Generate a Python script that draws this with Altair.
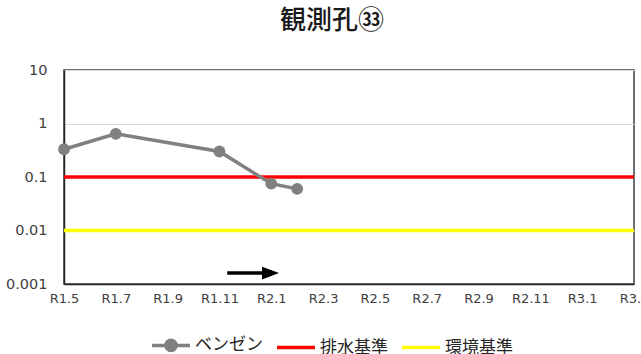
import json
import altair as alt
import pandas as pd

# Month labels on the horizontal axis (Reiwa year.month, every two months)
x_tick_labels = ["R1.5", "R1.7", "R1.9", "R1.11", "R2.1", "R2.3",
                 "R2.5", "R2.7", "R2.9", "R2.11", "R3.1", "R3.3"]

# Benzene measurements at observation well 33 (mg/L)
sample_months = ["R1.5", "R1.7", "R1.11", "R2.1", "R2.2"]
benzene_values = [0.33, 0.64, 0.30, 0.075, 0.06]

# Reference standards
effluent_standard = 0.1
environmental_standard = 0.01

# Legend entries
legend_names = ["ベンゼン", "排水基準", "環境基準"]
legend_colors = ["#808080", "#ff0000", "#ffff00"]
legend_shapes = [
    "M-1,0H1M0.27,0A0.27,0.27,0,1,1,-0.27,0A0.27,0.27,0,1,1,0.27,0Z",
    "M-1,0H1",
    "M-1,0H1",
]

# Trend arrow (month position and height on the log axis)
arrow_tail_month = 6.3
arrow_tip_month = 8.3
arrow_level = 0.0016

FONT = "Noto Sans CJK JP"
NUM_FONT = "DejaVu Sans"


def month_index(label):
    year, month = label[1:].split(".")
    return (int(year) - 1) * 12 + int(month) - 5


tick_values = [month_index(t) for t in x_tick_labels]
x_max = tick_values[-1]

df = pd.DataFrame({
    "m": [month_index(s) for s in sample_months],
    "value": benzene_values,
    "label": sample_months,
})
std_df = pd.DataFrame({
    "name": ["排水基準", "環境基準"],
    "value": [effluent_standard, environmental_standard],
    "color": ["#ff0000", "#ffff00"],
})
arrow_df = pd.DataFrame({
    "x0": [arrow_tail_month],
    "x1": [arrow_tip_month - 0.4],
    "tip": [arrow_tip_month],
    "y": [arrow_level],
})
legend_df = pd.DataFrame({"系列": legend_names})

label_array = json.dumps(x_tick_labels, ensure_ascii=False)

x_scale = alt.Scale(domain=[0, x_max], nice=False, zero=False)
y_scale = alt.Scale(type="log", domain=[0.001, 10], nice=False)

x_axis = alt.Axis(
    values=tick_values,
    labelExpr=f"{label_array}[round(datum.value / 2)]",
    title=None, grid=False, ticks=False, labelFlush=False,
    labelFont=NUM_FONT, labelFontSize=13, labelColor="#404040",
    labelPadding=8, domainColor="#262626", domainWidth=1.5,
)
y_axis = alt.Axis(
    values=[0.001, 0.01, 0.1, 1, 10], format="~g",
    title=None, grid=True, gridColor="#d9d9d9", gridWidth=1,
    ticks=False, labelFont=NUM_FONT, labelFontSize=14.5, labelColor="#404040",
    labelPadding=17, domainColor="#262626", domainWidth=1.5,
)

base_x = alt.X("m:Q", scale=x_scale, axis=x_axis)
base_y = alt.Y("value:Q", scale=y_scale, axis=y_axis)

standards = alt.Chart(std_df).mark_rule(strokeWidth=3.5).encode(
    y=alt.Y("value:Q", scale=y_scale, axis=y_axis),
    color=alt.Color("color:N", scale=None, legend=None),
)

line = alt.Chart(df).mark_line(
    color="#808080", strokeWidth=3.5,
    point=alt.OverlayMarkDef(filled=True, size=140, color="#808080"),
).encode(x=base_x, y=base_y)

arrow_shaft = alt.Chart(arrow_df).mark_rule(color="black", strokeWidth=3.5).encode(
    x=alt.X("x0:Q", scale=x_scale, axis=x_axis),
    x2="x1:Q",
    y=alt.Y("y:Q", scale=y_scale, axis=y_axis),
)
arrow_head = alt.Chart(arrow_df).mark_point(
    filled=True, color="black", opacity=1,
    shape="M0,0L-2,-0.75L-2,0.75Z", size=289,
).encode(
    x=alt.X("tip:Q", scale=x_scale, axis=x_axis),
    y=alt.Y("y:Q", scale=y_scale, axis=y_axis),
)

legend = alt.Legend(
    title=None, orient="none", direction="horizontal",
    legendX=86, legendY=254,
    labelFont=FONT, labelFontSize=17, labelColor="#262626",
    labelOffset=3, columnPadding=7, symbolSize=1444,
    symbolStrokeWidth=3.5, symbolOpacity=1,
)
legend_layer = alt.Chart(legend_df).mark_point(filled=True).encode(
    fill=alt.Fill("系列:N", scale=alt.Scale(domain=legend_names, range=legend_colors), legend=legend),
    stroke=alt.Stroke("系列:N", scale=alt.Scale(domain=legend_names, range=legend_colors), legend=legend),
    shape=alt.Shape("系列:N", scale=alt.Scale(domain=legend_names, range=legend_shapes), legend=legend),
).transform_filter("false")

chart = alt.layer(standards, line, arrow_shaft, arrow_head, legend_layer).resolve_scale(
    fill="independent", stroke="independent", shape="independent", color="independent"
).properties(
    width=570, height=214,
    background="white",
    title=alt.TitleParams("観測孔㉝", font=FONT, fontSize=26, fontWeight=500,
                          color="#1a1a1a", anchor="middle", dx=-17, offset=28),
    autosize=alt.AutoSizeParams(type="none"),
    padding={"left": 64, "top": 70, "right": 7, "bottom": 70},
).configure_view(
    stroke="#404040", strokeWidth=1.5
)

chart.save("out.html", embed_options={"renderer": "svg", "actions": False})
